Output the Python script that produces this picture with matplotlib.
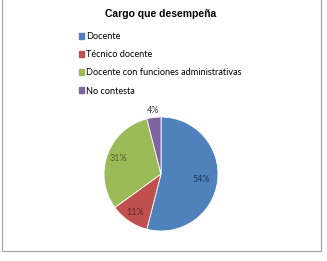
import matplotlib
matplotlib.use("Agg")
import matplotlib.pyplot as plt
import matplotlib.patches as mpatches
import numpy as np

# data
labels = ["Docente", "Técnico docente", "Docente con funciones administrativas", "No contesta"]
values = [54, 11, 31, 4]
COLORS = ["#4F81BD", "#C0504D", "#9BBB59", "#8064A2"]
TEXT_COLORS = ["#17375E", "#632523", "#4F6228", "#404040"]
LABEL_DIST = [0.72, 0.82, 0.79, 1.13]

plt.rcParams['font.family'] = ['Lato', 'DejaVu Sans']

W, H = 327, 261
fig = plt.figure(figsize=(W / 100, H / 100), dpi=100)

# outer frame (top edge lies above the picture)
fig.patches.append(mpatches.Rectangle((1.5 / W, 10 / H), 319 / W, 260 / H, transform=fig.transFigure,
                                      fill=False, edgecolor="#A6A6A6", linewidth=0.9))

cx, cy, r = 161, 87, 57
ax = fig.add_axes([(cx - r) / W, (cy - r) / H, 2 * r / W, 2 * r / H])
wedges, _ = ax.pie(values, colors=COLORS, startangle=90, counterclock=False,
                   wedgeprops=dict(edgecolor="white", linewidth=0.6))
ax.set_aspect("equal")
ax.set_xlim(-1, 1)
ax.set_ylim(-1, 1)

for w, v, d, c in zip(wedges, values, LABEL_DIST, TEXT_COLORS):
    ang = np.deg2rad((w.theta1 + w.theta2) / 2)
    ax.text(d * np.cos(ang), d * np.sin(ang), "%d%%" % v, ha="center", va="center",
            fontsize=6.5, color=c, clip_on=False)

fig.text(cx / W, 1 - 14 / H, "Cargo que desempeña", ha="center", va="center",
         fontsize=7.5, fontweight="bold", family=['Liberation Sans', 'DejaVu Sans'])

handles = [mpatches.Patch(color=c) for c in COLORS]
fig.legend(handles, labels, loc="upper left", bbox_to_anchor=(79 / W, 1 - 32 / H),
           frameon=False, fontsize=6.6, handlelength=0.55, handleheight=0.55,
           handletextpad=0.25, labelspacing=1.0, borderpad=0, borderaxespad=0)

fig.savefig("out.png", dpi=100)
